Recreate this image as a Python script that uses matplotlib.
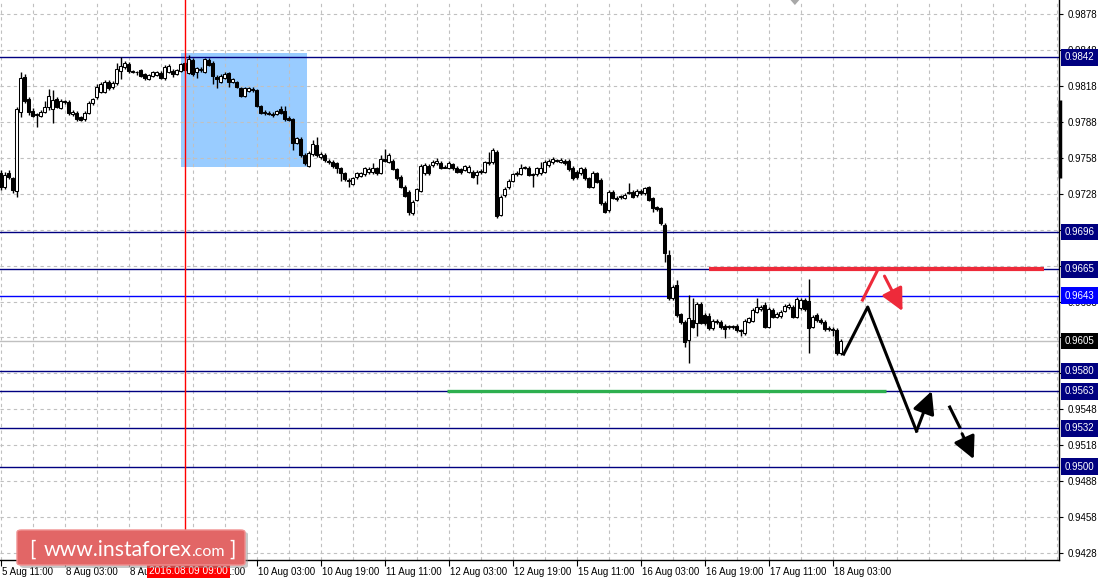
import numpy as np
import matplotlib
matplotlib.use("Agg")
import matplotlib.pyplot as plt
from matplotlib.patches import Rectangle, FancyBboxPatch, Polygon
from matplotlib.transforms import blended_transform_factory, ScaledTranslation

plt.rcParams['font.family'] = ['Liberation Sans', 'DejaVu Sans']

# H1 candles, bar 0 = 5 Aug 11:00
opens = [0.97450, 0.97338, 0.97450, 0.97408, 0.97305, 0.97964, 0.98257, 0.98068, 0.97970, 0.97945,
         0.97931, 0.97964, 0.98006, 0.97984, 0.98068, 0.97998, 0.98052, 0.98043, 0.97945, 0.97956,
         0.97918, 0.97903, 0.97956, 0.98034, 0.98085, 0.98131, 0.98131, 0.98215, 0.98168, 0.98201,
         0.98307, 0.98335, 0.98363, 0.98304, 0.98298, 0.98312, 0.98279, 0.98235, 0.98265, 0.98271,
         0.98290, 0.98243, 0.98298, 0.98307, 0.98277, 0.98304, 0.98368, 0.98290, 0.98396, 0.98298,
         0.98312, 0.98296, 0.98396, 0.98373, 0.98257, 0.98215, 0.98248, 0.98285, 0.98215, 0.98210,
         0.98160, 0.98095, 0.98137, 0.98151, 0.98146, 0.98014, 0.97962, 0.97956, 0.97945, 0.97945,
         0.97984, 0.97973, 0.97914, 0.97901, 0.97705, 0.97734, 0.97603, 0.97511, 0.97609, 0.97686,
         0.97584, 0.97603, 0.97552, 0.97542, 0.97533, 0.97492, 0.97450, 0.97394, 0.97361, 0.97417,
         0.97430, 0.97442, 0.97458, 0.97458, 0.97492, 0.97455, 0.97567, 0.97547, 0.97553, 0.97486,
         0.97422, 0.97338, 0.97291, 0.97116, 0.97227, 0.97302, 0.97450, 0.97513, 0.97519, 0.97533,
         0.97536, 0.97502, 0.97497, 0.97525, 0.97497, 0.97483, 0.97477, 0.97463, 0.97463, 0.97436,
         0.97469, 0.97463, 0.97533, 0.97542, 0.97630, 0.97102, 0.97269, 0.97333, 0.97388, 0.97442,
         0.97444, 0.97494, 0.97497, 0.97442, 0.97442, 0.97450, 0.97463, 0.97519, 0.97542, 0.97558,
         0.97547, 0.97555, 0.97553, 0.97497, 0.97463, 0.97450, 0.97486, 0.97408, 0.97338, 0.97450,
         0.97394, 0.97204, 0.97144, 0.97291, 0.97246, 0.97258, 0.97246, 0.97288, 0.97296, 0.97269,
         0.97302, 0.97283, 0.97333, 0.97241, 0.97166, 0.97158, 0.97018, 0.96768, 0.96406, 0.96517,
         0.96272, 0.96211, 0.96058, 0.96225, 0.96202, 0.96359, 0.96267, 0.96261, 0.96156, 0.96214,
         0.96206, 0.96177, 0.96172, 0.96166, 0.96175, 0.96140, 0.96114, 0.96211, 0.96219, 0.96294,
         0.96317, 0.96350, 0.96169, 0.96309, 0.96253, 0.96258, 0.96303, 0.96331, 0.96336, 0.96253,
         0.96323, 0.96392, 0.96386, 0.96169, 0.96267, 0.96225, 0.96211, 0.96159, 0.96147, 0.96142,
         0.95947]
highs = [0.97477, 0.97461, 0.97477, 0.97419, 0.98004, 0.98293, 0.98279, 0.98087, 0.97995, 0.97953,
         0.97979, 0.98054, 0.98151, 0.98146, 0.98087, 0.98070, 0.98065, 0.98062, 0.97979, 0.97970,
         0.97928, 0.97970, 0.98054, 0.98079, 0.98196, 0.98212, 0.98229, 0.98229, 0.98221, 0.98368,
         0.98419, 0.98388, 0.98379, 0.98312, 0.98307, 0.98321, 0.98287, 0.98279, 0.98304, 0.98304,
         0.98304, 0.98354, 0.98363, 0.98321, 0.98321, 0.98371, 0.98379, 0.98438, 0.98413, 0.98338,
         0.98338, 0.98413, 0.98410, 0.98388, 0.98271, 0.98279, 0.98296, 0.98296, 0.98246, 0.98221,
         0.98171, 0.98171, 0.98171, 0.98171, 0.98154, 0.98020, 0.97979, 0.97970, 0.97962, 0.97979,
         0.98012, 0.98012, 0.97928, 0.97912, 0.97753, 0.97753, 0.97620, 0.97636, 0.97728, 0.97751,
         0.97628, 0.97620, 0.97569, 0.97561, 0.97544, 0.97503, 0.97461, 0.97411, 0.97419, 0.97461,
         0.97461, 0.97503, 0.97503, 0.97533, 0.97503, 0.97603, 0.97653, 0.97620, 0.97569, 0.97494,
         0.97436, 0.97352, 0.97310, 0.97227, 0.97327, 0.97528, 0.97538, 0.97528, 0.97561, 0.97580,
         0.97553, 0.97519, 0.97553, 0.97536, 0.97511, 0.97494, 0.97519, 0.97519, 0.97477, 0.97477,
         0.97486, 0.97553, 0.97630, 0.97659, 0.97645, 0.97269, 0.97335, 0.97402, 0.97453, 0.97469,
         0.97525, 0.97511, 0.97511, 0.97453, 0.97503, 0.97542, 0.97561, 0.97569, 0.97589, 0.97569,
         0.97578, 0.97569, 0.97569, 0.97511, 0.97477, 0.97503, 0.97503, 0.97419, 0.97469, 0.97461,
         0.97411, 0.97219, 0.97310, 0.97310, 0.97260, 0.97269, 0.97285, 0.97372, 0.97310, 0.97319,
         0.97319, 0.97335, 0.97344, 0.97252, 0.97177, 0.97169, 0.97035, 0.96810, 0.96517, 0.96559,
         0.96283, 0.96225, 0.96434, 0.96406, 0.96375, 0.96375, 0.96283, 0.96283, 0.96233, 0.96233,
         0.96225, 0.96192, 0.96184, 0.96184, 0.96192, 0.96150, 0.96233, 0.96250, 0.96325, 0.96406,
         0.96350, 0.96375, 0.96334, 0.96325, 0.96292, 0.96309, 0.96359, 0.96367, 0.96350, 0.96417,
         0.96409, 0.96409, 0.96567, 0.96267, 0.96283, 0.96242, 0.96225, 0.96175, 0.96167, 0.96158,
         0.96066]
lows = [0.97310, 0.97319, 0.97402, 0.97283, 0.97249, 0.97920, 0.98037, 0.97937, 0.97920, 0.97834,
        0.97920, 0.97953, 0.97979, 0.97867, 0.97995, 0.97987, 0.98030, 0.97937, 0.97928, 0.97887,
        0.97884, 0.97887, 0.97945, 0.98020, 0.98070, 0.98120, 0.98120, 0.98146, 0.98154, 0.98187,
        0.98235, 0.98321, 0.98285, 0.98287, 0.98271, 0.98254, 0.98229, 0.98229, 0.98254, 0.98262,
        0.98237, 0.98229, 0.98287, 0.98257, 0.98271, 0.98296, 0.98304, 0.98279, 0.98262, 0.98248,
        0.98296, 0.98287, 0.98346, 0.98196, 0.98160, 0.98204, 0.98237, 0.98173, 0.98204, 0.98162,
        0.98087, 0.98087, 0.98129, 0.98129, 0.98004, 0.97945, 0.97937, 0.97937, 0.97920, 0.97937,
        0.97945, 0.97887, 0.97887, 0.97645, 0.97695, 0.97586, 0.97519, 0.97503, 0.97594, 0.97586,
        0.97569, 0.97544, 0.97528, 0.97494, 0.97450, 0.97388, 0.97386, 0.97338, 0.97352, 0.97402,
        0.97419, 0.97427, 0.97444, 0.97444, 0.97436, 0.97444, 0.97544, 0.97536, 0.97477, 0.97394,
        0.97327, 0.97252, 0.97102, 0.97102, 0.97219, 0.97294, 0.97436, 0.97436, 0.97503, 0.97519,
        0.97486, 0.97494, 0.97486, 0.97477, 0.97453, 0.97444, 0.97469, 0.97453, 0.97411, 0.97361,
        0.97444, 0.97453, 0.97519, 0.97528, 0.97079, 0.97093, 0.97252, 0.97319, 0.97377, 0.97427,
        0.97436, 0.97486, 0.97427, 0.97338, 0.97427, 0.97436, 0.97453, 0.97503, 0.97528, 0.97544,
        0.97536, 0.97519, 0.97469, 0.97394, 0.97402, 0.97436, 0.97394, 0.97327, 0.97327, 0.97369,
        0.97185, 0.97118, 0.97127, 0.97235, 0.97219, 0.97235, 0.97235, 0.97277, 0.97244, 0.97252,
        0.97269, 0.97269, 0.97219, 0.97129, 0.97135, 0.97018, 0.96712, 0.96392, 0.96392, 0.96250,
        0.96192, 0.96002, 0.95868, 0.96158, 0.96094, 0.96192, 0.96184, 0.96142, 0.96142, 0.96192,
        0.96150, 0.96072, 0.96150, 0.96150, 0.96125, 0.96091, 0.96100, 0.96200, 0.96208, 0.96283,
        0.96300, 0.96158, 0.96158, 0.96242, 0.96242, 0.96242, 0.96292, 0.96317, 0.96242, 0.96242,
        0.96309, 0.96300, 0.95952, 0.96158, 0.96208, 0.96192, 0.96133, 0.96133, 0.96091, 0.95933,
        0.95933]
closes = [0.97338, 0.97436, 0.97417, 0.97310, 0.97987, 0.98243, 0.98054, 0.97964, 0.97931, 0.97937,
          0.97964, 0.98004, 0.98095, 0.98062, 0.98006, 0.98054, 0.98046, 0.97951, 0.97964, 0.97903,
          0.97895, 0.97956, 0.98034, 0.98068, 0.98168, 0.98196, 0.98215, 0.98160, 0.98206, 0.98318,
          0.98346, 0.98368, 0.98304, 0.98298, 0.98293, 0.98262, 0.98243, 0.98268, 0.98293, 0.98296,
          0.98248, 0.98340, 0.98346, 0.98277, 0.98312, 0.98360, 0.98312, 0.98402, 0.98277, 0.98327,
          0.98321, 0.98402, 0.98354, 0.98262, 0.98235, 0.98262, 0.98279, 0.98215, 0.98235, 0.98173,
          0.98098, 0.98160, 0.98160, 0.98146, 0.98014, 0.97956, 0.97956, 0.97949, 0.97934, 0.97970,
          0.97956, 0.97903, 0.97895, 0.97705, 0.97742, 0.97603, 0.97533, 0.97617, 0.97695, 0.97603,
          0.97609, 0.97561, 0.97542, 0.97511, 0.97492, 0.97450, 0.97400, 0.97388, 0.97408, 0.97450,
          0.97450, 0.97492, 0.97486, 0.97497, 0.97450, 0.97567, 0.97555, 0.97603, 0.97486, 0.97408,
          0.97338, 0.97263, 0.97129, 0.97213, 0.97316, 0.97513, 0.97519, 0.97450, 0.97547, 0.97553,
          0.97497, 0.97496, 0.97538, 0.97492, 0.97463, 0.97458, 0.97511, 0.97505, 0.97422, 0.97463,
          0.97458, 0.97542, 0.97547, 0.97645, 0.97093, 0.97255, 0.97316, 0.97388, 0.97442, 0.97455,
          0.97492, 0.97499, 0.97436, 0.97436, 0.97492, 0.97497, 0.97547, 0.97553, 0.97567, 0.97552,
          0.97561, 0.97533, 0.97483, 0.97408, 0.97417, 0.97492, 0.97408, 0.97338, 0.97455, 0.97380,
          0.97200, 0.97129, 0.97291, 0.97246, 0.97235, 0.97252, 0.97269, 0.97294, 0.97255, 0.97302,
          0.97283, 0.97325, 0.97227, 0.97158, 0.97149, 0.97032, 0.96782, 0.96406, 0.96503, 0.96267,
          0.96211, 0.96044, 0.96239, 0.96169, 0.96359, 0.96202, 0.96197, 0.96156, 0.96217, 0.96208,
          0.96164, 0.96147, 0.96166, 0.96172, 0.96142, 0.96133, 0.96219, 0.96239, 0.96309, 0.96336,
          0.96336, 0.96169, 0.96314, 0.96253, 0.96272, 0.96294, 0.96342, 0.96350, 0.96253, 0.96400,
          0.96392, 0.96314, 0.96156, 0.96253, 0.96225, 0.96206, 0.96150, 0.96153, 0.96141, 0.95947,
          0.96050]

date_labels = ["5 Aug 11:00", "8 Aug 03:00", "8 Aug 19:00", "9 Aug 11:00", "10 Aug 03:00",
               "10 Aug 19:00", "11 Aug 11:00", "12 Aug 03:00", "12 Aug 19:00", "15 Aug 11:00",
               "16 Aug 03:00", "16 Aug 19:00", "17 Aug 11:00", "18 Aug 03:00"]
bars_per_label = 16

price_ticks = [0.9428, 0.9458, 0.9488, 0.9518, 0.9548, 0.9578, 0.9608, 0.9638,
               0.9668, 0.9698, 0.9728, 0.9758, 0.9788, 0.9818, 0.9848, 0.9878]
levels = [0.9842, 0.9696, 0.9665, 0.9580, 0.9563, 0.9532, 0.9500]
level_blue = 0.9643
bid = 0.9605

# analysis objects (bar index, price)
box_bars = [45.0, 76.6]
box_prices = [0.97503, 0.98454]
marker_bar = 46
marker_label = "2016.08.09 09:00"
resist_bars = [177.0, 260.8]
resist_price = 0.9665
support_bars = [111.5, 221.3]
support_price = 0.9563
red_path_bars = [215.5, 219.3]
red_path_prices = [0.96392, 0.96643]
red_arrow_bars = [221.0, 225.5]
red_arrow_prices = [0.96592, 0.96300]
black_path_bars = [210.8, 216.8, 229.0]
black_path_prices = [0.95941, 0.96334, 0.95298]
black_arrow_bars = [229.0, 232.8]
black_arrow_prices = [0.95298, 0.95632]
dash_bars = [237.3, 239.8]
dash_prices = [0.95499, 0.95331]
dash_arrow_bars = [240.4, 243.3]
dash_arrow_prices = [0.95276, 0.95064]
edge_bar = 264.75
edge_prices = [0.97411, 0.98062]
shift_bar = 198.6

W, H = 1101, 581
fig = plt.figure(figsize=(W / 100, H / 100), dpi=100)
ax = fig.add_axes([0, 21 / H, 1059 / W, 560 / H])

x = np.arange(len(closes))
o = np.array(opens)
c = np.array(closes)
hi = np.array(highs)
lo = np.array(lows)
up = c >= o
bottom = np.minimum(o, c)
height = np.maximum(np.abs(c - o), 0.00006)

ax.add_patch(Rectangle((box_bars[0], box_prices[0]), box_bars[1] - box_bars[0],
                       box_prices[1] - box_prices[0], facecolor='#99CCFF', edgecolor='none', zorder=0.2))

ax.vlines(x, lo, hi, color='black', lw=1, zorder=3)
ax.bar(x, height, 0.6, bottom, color=np.where(up, 'white', 'black'),
       edgecolor='black', linewidth=0.75, zorder=3.2)

for lv in levels:
    ax.axhline(lv, color='#000080', lw=1, zorder=2.5)
ax.axhline(level_blue, color='#0000FF', lw=1, zorder=2.5)
ax.axhline(bid, color='#C0C0C0', lw=1, zorder=2.4)
ax.axvline(marker_bar, color='#FF0000', lw=1, zorder=4)

red = '#EE2A3A'
head = '-|>,head_length=0.9,head_width=0.45'
ax.plot(resist_bars, [resist_price] * 2, color=red, lw=3, solid_capstyle='butt', zorder=5)
ax.plot(support_bars, [support_price] * 2, color='#2DAF4F', lw=2.4, solid_capstyle='butt', zorder=5)
ax.plot(red_path_bars, red_path_prices, color=red, lw=2.2, zorder=5)
ax.annotate('', xy=(red_arrow_bars[1], red_arrow_prices[1]), xytext=(red_arrow_bars[0], red_arrow_prices[0]),
            arrowprops=dict(arrowstyle=head, color=red, lw=2.2, mutation_scale=15, shrinkA=0, shrinkB=0), zorder=5)
ax.plot(black_path_bars, black_path_prices, color='black', lw=2.2, zorder=5)
ax.annotate('', xy=(black_arrow_bars[1], black_arrow_prices[1]), xytext=(black_arrow_bars[0], black_arrow_prices[0]),
            arrowprops=dict(arrowstyle=head, color='black', lw=2.2, mutation_scale=15, shrinkA=0, shrinkB=0), zorder=5)
ax.plot(dash_bars, dash_prices, color='black', lw=2.2, zorder=5)
ax.annotate('', xy=(dash_arrow_bars[1], dash_arrow_prices[1]), xytext=(dash_arrow_bars[0], dash_arrow_prices[0]),
            arrowprops=dict(arrowstyle=head, color='black', lw=2.2, mutation_scale=15, shrinkA=0, shrinkB=0), zorder=5)

ax.vlines(edge_bar, edge_prices[0], edge_prices[1], color='black', lw=2.5, clip_on=False, zorder=6)

ax.set_xlim(-0.125, 264.625)
ax.set_ylim(0.94222, 0.98897)

# grid / ticks
ax.set_axisbelow(True)
ax.set_xticks(np.arange(len(date_labels)) * bars_per_label)
ax.set_xticklabels(date_labels)
ax.set_xticks(np.arange(0, 265, 8), minor=True)
ax.set_yticks(price_ticks)
ax.set_yticklabels(['%.4f' % p for p in price_ticks])
ax.yaxis.tick_right()
ax.grid(True, which='both', axis='x', color='#C0C0C0', ls=(0, (3, 3)), lw=0.8)
ax.grid(True, which='major', axis='y', color='#C0C0C0', ls=(0, (3, 3)), lw=0.8)
ax.tick_params(axis='x', which='major', direction='out', length=4, width=0.8, labelsize=7, pad=1)
ax.tick_params(axis='x', which='minor', length=0)
ax.tick_params(axis='y', direction='out', length=3, width=0.8, labelsize=7, pad=3)
shift = ScaledTranslation(2 / 100, 0, fig.dpi_scale_trans)
for lab in ax.get_xticklabels():
    lab.set_horizontalalignment('left')
    lab.set_transform(lab.get_transform() + shift)
for s in ['top', 'left']:
    ax.spines[s].set_visible(False)
for s in ['right', 'bottom']:
    ax.spines[s].set_linewidth(1)

# price boxes on the scale
ytr = ax.get_yaxis_transform()
box_kw = dict(transform=ytr, fontsize=7, color='white', va='center', ha='left', clip_on=False, zorder=7)
for lv in levels:
    ax.text(1.0052, lv, '%.4f' % lv, bbox=dict(boxstyle='square,pad=0.35', fc='#000080', ec='none'), **box_kw)
ax.text(1.0052, level_blue, '%.4f' % level_blue, bbox=dict(boxstyle='square,pad=0.35', fc='#0000FF', ec='none'), **box_kw)
ax.text(1.0052, bid, '%.4f' % bid, bbox=dict(boxstyle='square,pad=0.35', fc='black', ec='none'), **box_kw)

xtr = blended_transform_factory(ax.transData, ax.transAxes)
ax.text(marker_bar + 1, -10.5 / 560, marker_label, transform=xtr, fontsize=7.3, color='white',
        ha='center', va='center', bbox=dict(boxstyle='square,pad=0.25', fc='#FF0000', ec='none'),
        clip_on=False, zorder=7)

# chart shift marker
ax.add_patch(Polygon([[shift_bar - 1.1, 1.0], [shift_bar + 1.1, 1.0], [shift_bar, 0.991]],
                     closed=True, transform=xtr, facecolor='#A8A8A8', edgecolor='none', zorder=6))

# watermark
fig.patches.append(FancyBboxPatch((20 / W, 13 / H), 228 / W, 36 / H, boxstyle='round,pad=0,rounding_size=0.004',
                                  transform=fig.transFigure, facecolor='#909090', edgecolor='none', alpha=0.5))
fig.patches.append(FancyBboxPatch((17 / W, 16 / H), 228 / W, 35 / H, boxstyle='round,pad=0,rounding_size=0.004',
                                  transform=fig.transFigure, facecolor='#E26666', edgecolor='#F09090', lw=1))
fig.text(29 / W, 25 / H, '[', fontsize=15, color='white', family='Lato', va='baseline')
fig.text(44 / W, 25 / H, 'www.instaforex', fontsize=15.2, color='white', family='Lato', va='baseline')
fig.text(191 / W, 25 / H, '.com', fontsize=11.5, color='white', family='Lato', va='baseline')
fig.text(229 / W, 25 / H, ']', fontsize=15, color='white', family='Lato', va='baseline')

plt.savefig("out.png", dpi=100)
